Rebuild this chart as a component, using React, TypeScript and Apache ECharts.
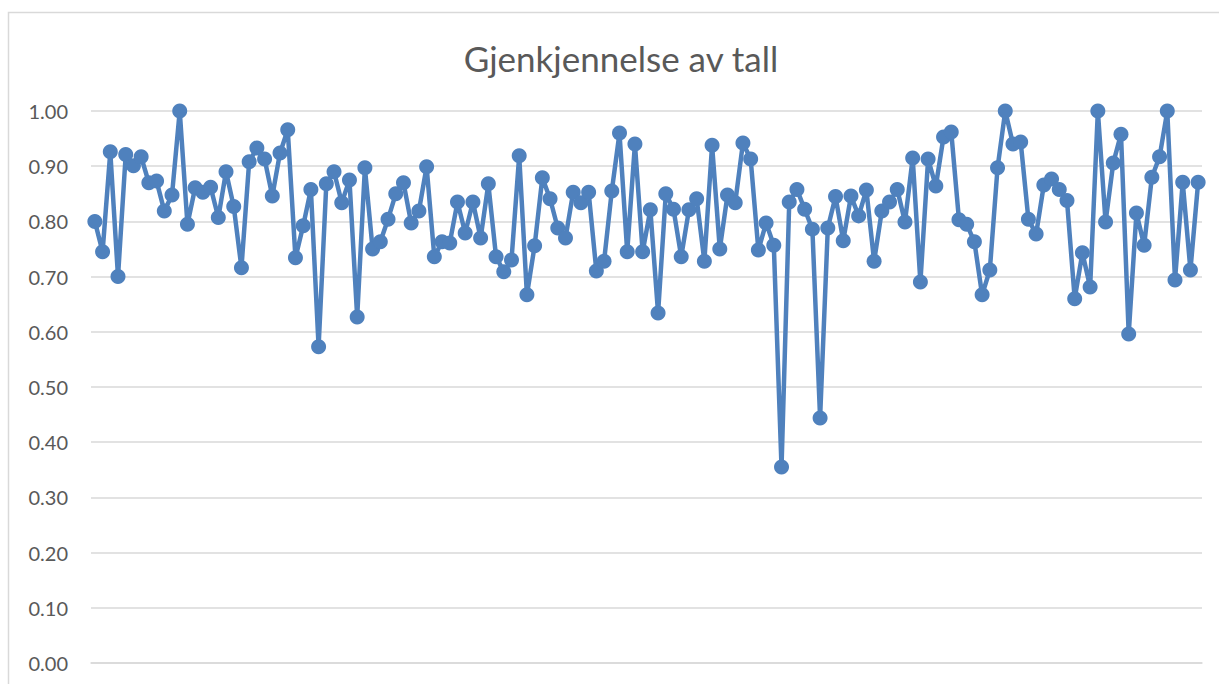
import React, { useEffect, useRef } from "react";
import * as echarts from "echarts";

const titleText = "Gjenkjennelse av tall";

const values: number[] = [
  0.80, 0.745, 0.926, 0.70, 0.921, 0.901, 0.917, 0.870, 0.873, 0.819,
  0.848, 1.00, 0.795, 0.861, 0.853, 0.862, 0.807, 0.890, 0.827, 0.716,
  0.908, 0.933, 0.913, 0.846, 0.924, 0.966, 0.734, 0.792, 0.858, 0.573,
  0.868, 0.890, 0.834, 0.875, 0.627, 0.897, 0.750, 0.763, 0.804, 0.850,
  0.870, 0.797, 0.819, 0.899, 0.736, 0.763, 0.761, 0.835, 0.779, 0.835,
  0.770, 0.868, 0.736, 0.709, 0.730, 0.919, 0.667, 0.756, 0.879, 0.841,
  0.788, 0.770, 0.853, 0.834, 0.853, 0.710, 0.728, 0.855, 0.960, 0.745,
  0.940, 0.745, 0.821, 0.634, 0.850, 0.822, 0.736, 0.821, 0.841, 0.728,
  0.938, 0.750, 0.848, 0.834, 0.942, 0.913, 0.748, 0.797, 0.757, 0.355,
  0.835, 0.858, 0.822, 0.786, 0.444, 0.788, 0.845, 0.765, 0.846, 0.810,
  0.857, 0.728, 0.819, 0.835, 0.858, 0.799, 0.915, 0.690, 0.913, 0.864,
  0.953, 0.962, 0.803, 0.795, 0.763, 0.667, 0.712, 0.897, 1.00, 0.940,
  0.944, 0.804, 0.777, 0.866, 0.877, 0.858, 0.838, 0.660, 0.743, 0.681,
  1.00, 0.799, 0.906, 0.958, 0.596, 0.815, 0.757, 0.880, 0.917, 1.00,
  0.694, 0.871, 0.712, 0.871,
];

const categories: string[] = values.map((_, i) => String(i + 1));

const yMin = 0;
const yMax = 1;
const yStep = 0.1;

export default function App() {
  const ref = useRef<HTMLDivElement>(null);

  useEffect(() => {
    if (!ref.current) return;
    const chart = echarts.init(ref.current, undefined, { renderer: "svg" });
    chart.setOption({
      animation: false,
      backgroundColor: "#ffffff",
      title: {
        text: titleText,
        left: 616,
        top: 35,
        textAlign: "center",
        textStyle: {
          fontFamily: "Lato",
          fontSize: 35,
          fontWeight: "normal",
          color: "#595959",
        },
      },
      graphic: [
        {
          type: "rect",
          shape: { x: 8.5, y: 12.5, width: 1240, height: 720 },
          style: { fill: "none", stroke: "#D9D9D9", lineWidth: 1.5 },
          silent: true,
          z: -1,
        },
      ],
      grid: { left: 91, right: 17, top: 111, bottom: 21, containLabel: false },
      xAxis: {
        type: "category",
        data: categories,
        boundaryGap: true,
        axisLine: { show: true, lineStyle: { color: "#D9D9D9", width: 1.5 } },
        axisTick: { show: false },
        axisLabel: { show: false },
        splitLine: { show: false },
      },
      yAxis: {
        type: "value",
        min: yMin,
        max: yMax,
        interval: yStep,
        axisLine: { show: false },
        axisTick: { show: false },
        axisLabel: {
          formatter: (v: number) => v.toFixed(2),
          fontFamily: "Lato",
          fontSize: 20,
          color: "#595959",
          margin: 23,
        },
        splitLine: { show: true, lineStyle: { color: "#D9D9D9", width: 1.5 } },
      },
      series: [
        {
          type: "line",
          data: values,
          symbol: "circle",
          symbolSize: 15,
          showAllSymbol: true,
          lineStyle: { color: "#4F81BD", width: 4.5 },
          itemStyle: { color: "#4F81BD" },
        },
      ],
    });
    return () => chart.dispose();
  }, []);

  return (
    <div
      ref={ref}
      style={{ position: "fixed", left: 0, top: 0, width: 1219, height: 684 }}
    />
  );
}
